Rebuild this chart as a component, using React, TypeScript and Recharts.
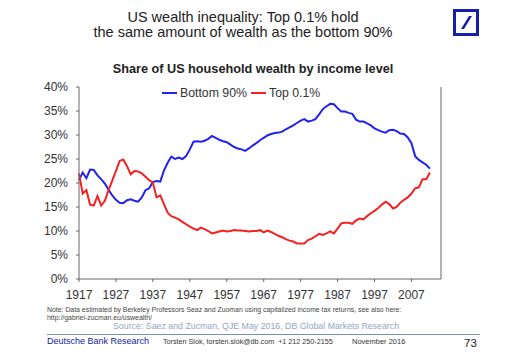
import { Line, LineChart, XAxis, YAxis } from 'recharts'

// yearly values, 1917-2012
const YEARS = [
  1917, 1918, 1919, 1920, 1921, 1922, 1923, 1924, 1925, 1926, 1927, 1928, 1929, 1930, 1931, 1932,
  1933, 1934, 1935, 1936, 1937, 1938, 1939, 1940, 1941, 1942, 1943, 1944, 1945, 1946, 1947, 1948,
  1949, 1950, 1951, 1952, 1953, 1954, 1955, 1956, 1957, 1958, 1959, 1960, 1961, 1962, 1963, 1964,
  1965, 1966, 1967, 1968, 1969, 1970, 1971, 1972, 1973, 1974, 1975, 1976, 1977, 1978, 1979, 1980,
  1981, 1982, 1983, 1984, 1985, 1986, 1987, 1988, 1989, 1990, 1991, 1992, 1993, 1994, 1995, 1996,
  1997, 1998, 1999, 2000, 2001, 2002, 2003, 2004, 2005, 2006, 2007, 2008, 2009, 2010, 2011, 2012,
]

const BOTTOM_90 = [
  20.6, 22.2, 21.0, 22.8, 22.7, 21.6, 20.8, 19.9, 18.6, 17.4, 16.5, 15.9, 15.8, 16.4, 16.6, 16.3,
  16.1, 17.0, 18.5, 18.9, 20.2, 20.4, 20.3, 22.6, 24.2, 25.5, 25.0, 25.3, 25.0, 25.6, 27.0, 28.6,
  28.7, 28.6, 28.8, 29.2, 29.8, 29.4, 29.0, 28.7, 28.5, 28.0, 27.5, 27.2, 27.0, 26.7, 27.2, 27.8,
  28.3, 28.9, 29.4, 29.9, 30.2, 30.4, 30.5, 30.7, 31.2, 31.6, 32.0, 32.5, 33.0, 33.3, 32.8, 33.0,
  33.3, 34.3, 35.4, 36.0, 36.5, 36.4, 35.6, 34.9, 34.9, 34.6, 34.4, 33.2, 32.8, 32.8, 32.4, 32.0,
  31.4, 31.0, 30.7, 30.5, 31.0, 31.1, 30.8, 30.3, 30.2, 29.5, 28.3, 25.6, 24.8, 24.3, 23.8, 23.0,
]

const TOP_01 = [
  22.0, 17.8, 18.5, 15.5, 15.3, 17.3, 15.3, 16.3, 18.5, 20.5, 22.5, 24.6, 24.9, 23.5, 21.8, 22.5,
  22.4, 22.0, 21.3, 20.6, 20.1, 17.0, 17.4, 15.6, 13.8, 13.1, 12.8, 12.4, 11.9, 11.4, 10.9, 10.5,
  10.2, 10.7, 10.4, 10.0, 9.5, 9.7, 9.9, 10.1, 9.9, 10.0, 10.2, 10.1, 10.1, 10.0, 9.9, 10.0,
  10.0, 10.2, 9.7, 10.1, 9.8, 9.4, 9.0, 8.7, 8.3, 8.0, 7.8, 7.4, 7.4, 7.4, 8.1, 8.4,
  8.9, 9.4, 9.2, 9.5, 9.9, 9.5, 10.5, 11.6, 11.7, 11.7, 11.5, 12.2, 12.6, 12.4, 13.1, 13.7,
  14.2, 14.8, 15.5, 16.1, 15.6, 14.7, 15.0, 15.9, 16.5, 17.0, 17.8, 18.9, 19.1, 20.8, 20.8, 22.2,
]

const X_TICKS = [1917, 1927, 1937, 1947, 1957, 1967, 1977, 1987, 1997, 2007]
const Y_TICKS = [0, 5, 10, 15, 20, 25, 30, 35, 40]

const COLOR_BLUE = '#2121f0'
const COLOR_RED = '#f52020'
const COLOR_TEXT = '#333333'
const COLOR_AXIS = '#666666'
const DB_BLUE = '#1420a8'
const FONT = 'Arial, "Liberation Sans", sans-serif'

const SERIES = [
  { key: 'bottom', name: 'Bottom 90%', color: COLOR_BLUE },
  { key: 'top', name: 'Top 0.1%', color: COLOR_RED },
]

const data = YEARS.map((year, i) => ({ year, bottom: BOTTOM_90[i], top: TOP_01[i] }))

const tick = { fontSize: 12, fill: COLOR_TEXT, fontFamily: FONT }
const pct = (v: number) => `${v}%`

export default function App() {
  return (
    <div
      style={{
        position: 'absolute',
        left: 0,
        top: 0,
        width: 510,
        height: 354,
        background: '#fff',
        fontFamily: FONT,
        color: COLOR_TEXT,
        overflow: 'hidden',
      }}
    >
      <div style={{ position: 'absolute', left: 0, width: 486, top: 10, textAlign: 'center', fontSize: 14.5, lineHeight: '15px', color: '#222' }}>
        US wealth inequality: Top 0.1% hold
        <br />
        the same amount of wealth as the bottom 90%
      </div>

      {/* DB logo */}
      <div style={{ position: 'absolute', left: 453, top: 9, width: 20, height: 21, border: `3px solid ${DB_BLUE}`, background: '#fff' }}>
        <svg width={20} height={21} style={{ display: 'block' }}>
          <polygon points="5,17 13,4 16,4 8,17" fill={DB_BLUE} />
        </svg>
      </div>

      <div style={{ position: 'absolute', left: 0, width: 506, top: 62, textAlign: 'center', fontSize: 12.7, lineHeight: '14px', fontWeight: 'bold', color: '#222' }}>
        Share of US household wealth by income level
      </div>

      <LineChart
        width={510}
        height={354}
        data={data}
        margin={{ top: 87, right: 0, bottom: 45, left: 0 }}
        style={{ position: 'absolute', left: 0, top: 0 }}
      >
        <XAxis
          dataKey="year"
          type="number"
          domain={[1917, 2015]}
          ticks={X_TICKS}
          tick={tick}
          tickSize={3}
          tickMargin={8}
          height={30}
          stroke={COLOR_AXIS}
          interval={0}
        />
        <YAxis
          yAxisId="left"
          domain={[0, 40]}
          ticks={Y_TICKS}
          tickFormatter={pct}
          tick={tick}
          tickSize={3}
          tickMargin={8}
          width={79}
          stroke={COLOR_AXIS}
          interval={0}
        />
        <YAxis
          yAxisId="right"
          orientation="right"
          domain={[0, 40]}
          ticks={Y_TICKS}
          tickFormatter={pct}
          tick={tick}
          tickSize={3}
          tickMargin={8}
          width={69}
          stroke={COLOR_AXIS}
          interval={0}
        />
        {SERIES.map((s) => (
          <Line
            key={s.key}
            yAxisId="left"
            type="linear"
            dataKey={s.key}
            name={s.name}
            stroke={s.color}
            strokeWidth={2}
            dot={false}
            isAnimationActive={false}
          />
        ))}
      </LineChart>

      {/* legend */}
      <div style={{ position: 'absolute', left: 162, top: 86, display: 'flex', fontSize: 12.3, lineHeight: '14px' }}>
        {SERIES.map((s) => (
          <div key={s.key} style={{ display: 'flex', alignItems: 'center', marginRight: 4 }}>
            <span style={{ display: 'inline-block', width: 15, height: 2, background: s.color, marginRight: 3 }} />
            <span>{s.name}</span>
          </div>
        ))}
      </div>

      <div style={{ position: 'absolute', left: 47, top: 306, fontSize: 6.9, lineHeight: '7.7px', color: '#444', whiteSpace: 'nowrap' }}>
        Note: Data estimated by Berkeley Professors Seaz and Zuoman using capitalized income tax returns, see also here:
        <br />
        http://gabriel-zucman.eu/uswealth/
      </div>
      <div style={{ position: 'absolute', left: 113, top: 322, fontSize: 8.8, lineHeight: '9.4px', color: '#93a5c4', whiteSpace: 'nowrap' }}>
        Source: Saez and Zucman, QJE May 2016, DB Global Markets Research
      </div>
      <div style={{ position: 'absolute', left: 47, top: 334, width: 433, height: 1, background: '#7e90aa' }} />
      <div style={{ position: 'absolute', left: 47, top: 336, fontSize: 9, lineHeight: '10px', color: DB_BLUE, whiteSpace: 'nowrap' }}>
        Deutsche Bank Research
      </div>
      <div style={{ position: 'absolute', left: 163, top: 338, fontSize: 7.2, lineHeight: '8px', color: '#333', whiteSpace: 'nowrap' }}>
        Torsten Slok, torsten.slok@db.com&nbsp; +1 212 250-2155
      </div>
      <div style={{ position: 'absolute', left: 352, top: 338, fontSize: 7.5, lineHeight: '8px', color: '#333', whiteSpace: 'nowrap' }}>
        November 2016
      </div>
      <div style={{ position: 'absolute', left: 464, top: 337, fontSize: 11.5, lineHeight: '12px', color: '#222' }}>73</div>
    </div>
  )
}
